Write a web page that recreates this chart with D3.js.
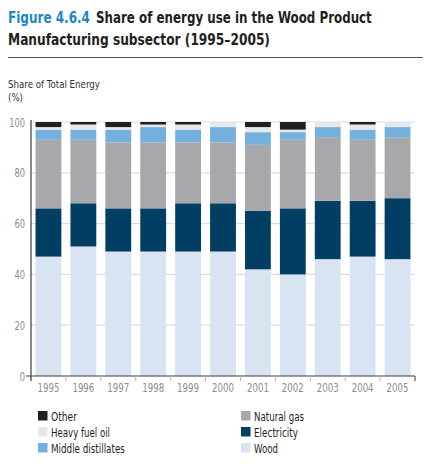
<!DOCTYPE html>
<html>
<head>
<meta charset="utf-8">
<script src="https://cdn.jsdelivr.net/npm/d3@7"></script>
<style>
  body { margin: 0; background: #fff; }
  svg { display: block; font-family: "DejaVu Sans Condensed", "DejaVu Sans", sans-serif; }
</style>
</head>
<body>
<svg id="chart" width="432" height="468"></svg>
<script>
'use strict';
/*
 *	Data
 */
var years = ["1995", "1996", "1997", "1998", "1999", "2000", "2001", "2002", "2003", "2004", "2005"];
var wood        = [47, 51, 49, 49, 49, 49, 42, 40, 46, 47, 46];
var electricity = [19, 17, 17, 17, 19, 19, 23, 26, 23, 22, 24];
var naturalGas  = [27, 25, 26, 26, 24, 24, 26, 27, 25, 24, 24];
var middleDist  = [4, 4, 5, 6, 5, 6, 5, 3, 4, 4, 4];
var heavyFuel   = [1, 2, 1, 1, 2, 2, 2, 1, 2, 2, 2];
var other       = [2, 1, 2, 1, 1, 0, 2, 3, 0, 1, 0];
var yTicks = [0, 20, 40, 60, 80, 100];

// stacking order, bottom first
var series = [
  { key: "Wood", values: wood, color: "#d8e4f2" },
  { key: "Electricity", values: electricity, color: "#003f63" },
  { key: "Natural gas", values: naturalGas, color: "#a6a8ab" },
  { key: "Middle distillates", values: middleDist, color: "#74b0de" },
  { key: "Heavy fuel oil", values: heavyFuel, color: "#e6e7e8" },
  { key: "Other", values: other, color: "#231f20" }
];

// squeeze a text to a width (the original face is narrower than ours)
function squeeze(sel, w){
  sel.each(function(){
    var t = d3.select(this);
    var x0 = +t.attr("x"), y0 = +t.attr("y");
    var k = w / this.getComputedTextLength();
    t.attr("x", 0).attr("y", 0)
      .attr("transform", "translate(" + x0 + "," + y0 + ") scale(" + k + ",1)");
  });
}

/*
 *	Setup
 */
var svg = d3.select("#chart");
var m = { left: 31, right: 415, top: 122, bottom: 376 };

var table = years.map(function(y, i){
  var row = { year: y };
  series.forEach(function(s){ row[s.key] = s.values[i]; });
  return row;
});
var stack = d3.stack().keys(series.map(function(s){ return s.key; }))(table);

var x = d3.scaleBand().domain(years).range([m.left, m.right]).paddingInner(0.26).paddingOuter(0.13);
var y = d3.scaleLinear().domain([0, 100]).range([m.bottom, m.top]);

// title
svg.append("text").attr("x", 8).attr("y", 23)
  .attr("font-size", 16).attr("font-weight", "bold").attr("fill", "#1c87c9")
  .text("Figure 4.6.4").call(squeeze, 82);
svg.append("text").attr("x", 96).attr("y", 23)
  .attr("font-size", 16).attr("font-weight", "bold").attr("fill", "#231f20")
  .text("Share of energy use in the Wood Product").call(squeeze, 276);
svg.append("text").attr("x", 8).attr("y", 45)
  .attr("font-size", 16).attr("font-weight", "bold").attr("fill", "#231f20")
  .text("Manufacturing subsector (1995\u20132005)")
  .call(squeeze, 262);
svg.append("line").attr("x1", 8).attr("x2", 423).attr("y1", 57.5).attr("y2", 57.5)
  .attr("stroke", "#555").attr("stroke-width", 1);

// axis label
svg.append("text").attr("x", 8).attr("y", 88).attr("font-size", 11).attr("fill", "#333")
  .text("Share of Total Energy").call(squeeze, 92);
svg.append("text").attr("x", 8).attr("y", 101).attr("font-size", 11).attr("fill", "#333")
  .text("(%)").call(squeeze, 15);

// gridlines
svg.append("g").selectAll("line").data(yTicks.slice(1)).enter().append("line")
  .attr("x1", m.left).attr("x2", m.right)
  .attr("y1", function(d){ return y(d); }).attr("y2", function(d){ return y(d); })
  .attr("stroke", "#dcdddf").attr("stroke-width", 1.2);

// y tick labels
svg.append("g").selectAll("text").data(yTicks).enter().append("text")
  .attr("x", 25).attr("y", function(d){ return y(d) + 4.5; })
  .attr("text-anchor", "end").attr("font-size", 12.5).attr("fill", "#8a8c8e")
  .text(function(d){ return d; })
  .each(function(d){ d3.select(this).call(squeeze, String(d).length * 5.3); });

// bars
svg.append("g").selectAll("g").data(stack).enter().append("g")
  .attr("fill", function(d, i){ return series[i].color; })
  .selectAll("rect").data(function(d){ return d; }).enter().append("rect")
  .attr("x", function(d){ return x(d.data.year); })
  .attr("width", x.bandwidth())
  .attr("y", function(d){ return y(d[1]); })
  .attr("height", function(d){ return y(d[0]) - y(d[1]); });

// axes
svg.append("line").attr("x1", m.left).attr("x2", m.left).attr("y1", m.top - 2).attr("y2", m.bottom + 5)
  .attr("stroke", "#3a3a3a").attr("stroke-width", 1.2);
svg.append("line").attr("x1", m.left - 5).attr("x2", m.right).attr("y1", m.bottom).attr("y2", m.bottom)
  .attr("stroke", "#3a3a3a").attr("stroke-width", 1.2);
var step = x.step();
var edges = years.map(function(yr, i){ return m.left + x.paddingOuter() * step + step * (i + 1) - x.paddingInner() * step / 2; });
svg.append("g").selectAll("line").data(edges).enter().append("line")
  .attr("x1", function(d, i){ return i === years.length - 1 ? m.right : d; })
  .attr("x2", function(d, i){ return i === years.length - 1 ? m.right : d; })
  .attr("y1", m.bottom).attr("y2", m.bottom + 5)
  .attr("stroke", function(d, i){ return i === years.length - 1 ? "#3a3a3a" : "#b5b6b8"; })
  .attr("stroke-width", 1);

// x labels
svg.append("g").selectAll("text").data(years).enter().append("text")
  .attr("x", function(d){ return x(d) + x.bandwidth() / 2; })
  .attr("y", 392).attr("text-anchor", "middle").attr("font-size", 12.5).attr("fill", "#8a8c8e")
  .text(function(d){ return d; })
  .call(squeeze, 22);

// legend
var legendOrder = ["Other", "Heavy fuel oil", "Middle distillates", "Natural gas", "Electricity", "Wood"];
var legendWidth = [26, 59, 74, 50, 44, 24];
var legend = svg.append("g").selectAll("g").data(legendOrder).enter().append("g")
  .attr("transform", function(d, i){
    return "translate(" + (i < 3 ? 38 : 241) + "," + (411 + (i % 3) * 16) + ")";
  });
legend.append("rect").attr("width", 9.5).attr("height", 9.5)
  .attr("fill", function(d){ return series.filter(function(s){ return s.key === d; })[0].color; });
legend.append("text").attr("x", 13).attr("y", 9.5).attr("font-size", 12.5).attr("fill", "#231f20")
  .text(function(d){ return d; })
  .each(function(d, i){ d3.select(this).call(squeeze, legendWidth[i]); });
</script>
</body>
</html>
